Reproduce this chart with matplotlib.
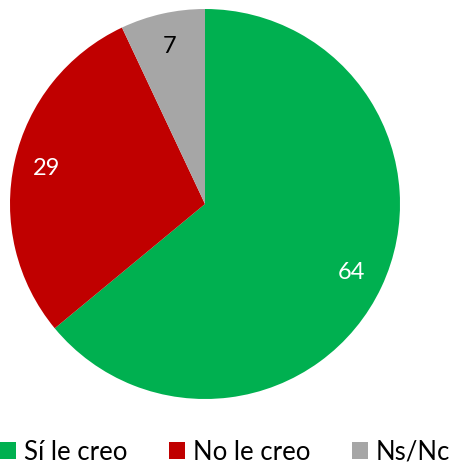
import matplotlib
matplotlib.use("Agg")
import matplotlib.pyplot as plt
from matplotlib.patches import Patch

labels = ["Sí le creo", "No le creo", "Ns/Nc"]
values = [64, 29, 7]
colors = ["#00B050", "#C00000", "#A6A6A6"]
text_colors = ["white", "white", "black"]

plt.rcParams['font.family'] = ['Lato', 'DejaVu Sans']

W, H = 450, 471
fig = plt.figure(figsize=(W / 100, H / 100), dpi=100)
cx, cy, r = 205, 204, 195
ax = fig.add_axes([(cx - r) / W, (H - cy - r) / H, 2 * r / W, 2 * r / H])

wedges, texts = ax.pie(values, colors=colors, startangle=90, counterclock=False,
                       labels=[str(v) for v in values], labeldistance=0.83,
                       wedgeprops=dict(linewidth=0))
for t, c in zip(texts, text_colors):
    t.set_color(c)
    t.set_fontsize(17)
    t.set_ha("center")
    t.set_va("center")
ax.set_aspect("equal")
ax.set_xlim(-1, 1)
ax.set_ylim(-1, 1)

handles = [Patch(facecolor=c, edgecolor="none") for c in colors]
fig.legend(handles, labels, loc="center", bbox_to_anchor=(0.5, 1 - 452 / H), ncol=3,
           frameon=False, fontsize=18.5, handlelength=0.65, handleheight=0.65,
           handletextpad=0.3, columnspacing=1.6, borderpad=0)

fig.savefig("out.png", dpi=100)
